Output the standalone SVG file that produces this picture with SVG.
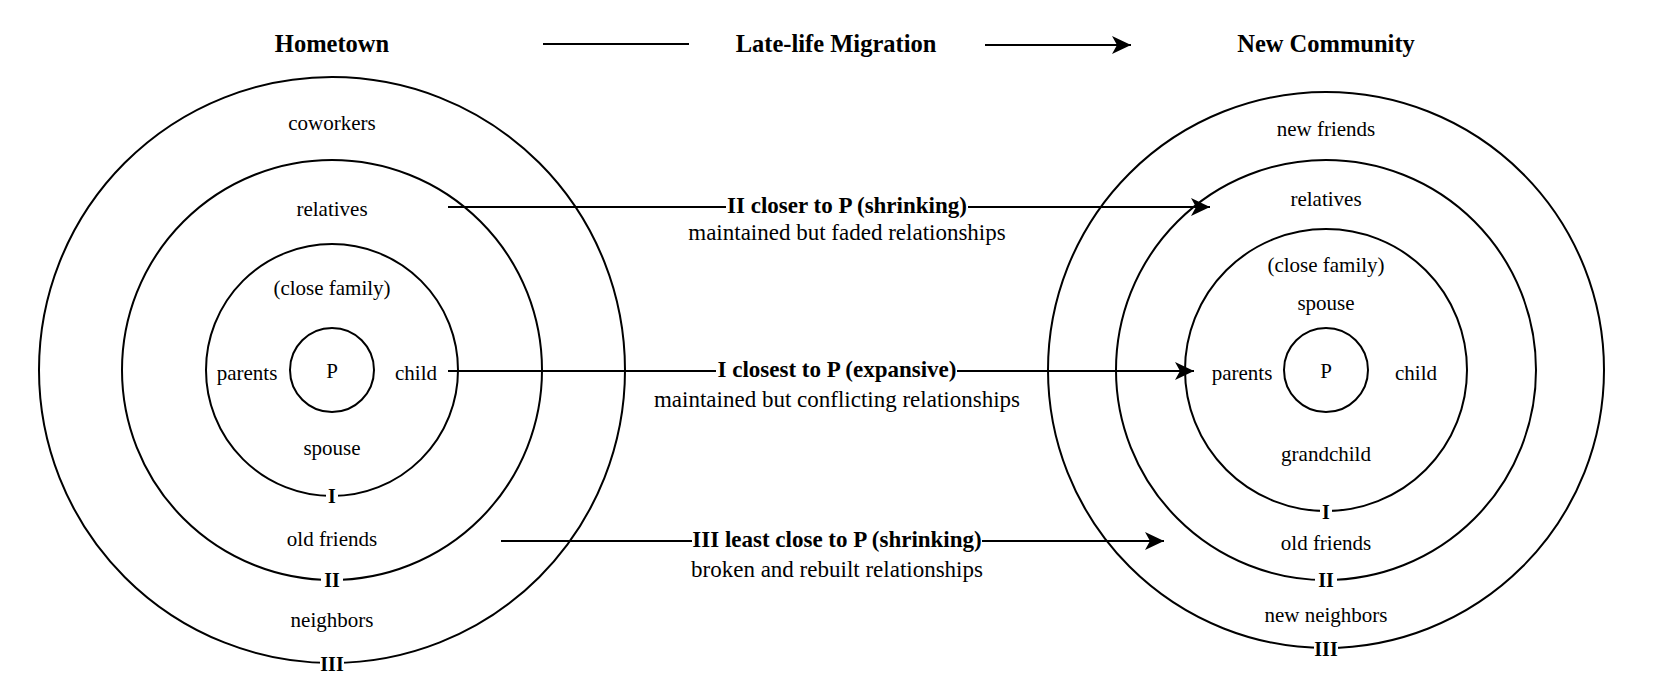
<svg xmlns="http://www.w3.org/2000/svg" width="1653" height="679" viewBox="0 0 1653 679">
<style>
.ring{fill:none;stroke:#000;stroke-width:2}
.lbl{font-family:"Liberation Serif","Times New Roman",serif;font-size:21px;fill:#000;text-anchor:middle}
.num{font-family:"Liberation Serif","Times New Roman",serif;font-size:20px;font-weight:bold;fill:#000;text-anchor:middle}
.head{font-family:"Liberation Serif","Times New Roman",serif;font-size:24.5px;font-weight:bold;fill:#000;text-anchor:middle}
.mid{font-family:"Liberation Serif","Times New Roman",serif;font-size:23px;fill:#000;text-anchor:middle}
.midb{font-family:"Liberation Serif","Times New Roman",serif;font-size:23px;font-weight:bold;fill:#000;text-anchor:middle}
.conn{fill:none;stroke:#000;stroke-width:2}
.bg{fill:#fff}
</style>
<defs>
<marker id="arr" markerUnits="userSpaceOnUse" markerWidth="20" markerHeight="20" refX="19" refY="10" orient="auto">
<path d="M0,1 L19,10 L0,19 L5,10 Z" fill="#000"/>
</marker>
</defs>
<rect width="1653" height="679" fill="#fff"/>

<g id="connectors">
<line class="conn" x1="543" y1="44" x2="689" y2="44"/>
<line class="conn" x1="985" y1="45" x2="1131" y2="45" marker-end="url(#arr)"/>
<line class="conn" x1="448" y1="207" x2="1210" y2="207" marker-end="url(#arr)"/>
<line class="conn" x1="448" y1="371" x2="1194" y2="371" marker-end="url(#arr)"/>
<line class="conn" x1="501" y1="541" x2="1164" y2="541" marker-end="url(#arr)"/>
</g>

<g id="titles">
<text class="head" x="332" y="52">Hometown</text>
<text class="head" x="836" y="52">Late-life Migration</text>
<text class="head" x="1326" y="52">New Community</text>
</g>

<g id="hometown">
<circle class="ring" cx="332" cy="370" r="293"/>
<circle class="ring" cx="332" cy="370" r="210"/>
<circle class="ring" cx="332" cy="370" r="126"/>
<circle class="ring" cx="332" cy="370" r="42"/>
<text class="lbl" x="332" y="130">coworkers</text>
<text class="lbl" x="332" y="216">relatives</text>
<text class="lbl" x="332" y="295">(close family)</text>
<text class="lbl" x="247" y="380">parents</text>
<text class="lbl" x="332" y="378">P</text>
<text class="lbl" x="416" y="380">child</text>
<text class="lbl" x="332" y="455">spouse</text>
<text class="lbl" x="332" y="546">old friends</text>
<text class="lbl" x="332" y="627">neighbors</text>
<rect class="bg" x="326" y="488" width="12" height="16"/>
<text class="num" x="332" y="503">I</text>
<rect class="bg" x="321" y="572" width="22" height="16"/>
<text class="num" x="332" y="587">II</text>
<rect class="bg" x="320" y="656" width="24" height="16"/>
<text class="num" x="332" y="671">III</text>
</g>

<g id="newcommunity">
<circle class="ring" cx="1326" cy="370" r="278"/>
<circle class="ring" cx="1326" cy="370" r="210"/>
<circle class="ring" cx="1326" cy="370" r="141"/>
<circle class="ring" cx="1326" cy="370" r="42"/>
<text class="lbl" x="1326" y="136">new friends</text>
<text class="lbl" x="1326" y="206">relatives</text>
<text class="lbl" x="1326" y="272">(close family)</text>
<text class="lbl" x="1326" y="310">spouse</text>
<text class="lbl" x="1242" y="380">parents</text>
<text class="lbl" x="1326" y="378">P</text>
<text class="lbl" x="1416" y="380">child</text>
<text class="lbl" x="1326" y="461">grandchild</text>
<text class="lbl" x="1326" y="550">old friends</text>
<text class="lbl" x="1326" y="622">new neighbors</text>
<rect class="bg" x="1320" y="504" width="12" height="16"/>
<text class="num" x="1326" y="519">I</text>
<rect class="bg" x="1315" y="572" width="22" height="16"/>
<text class="num" x="1326" y="587">II</text>
<rect class="bg" x="1314" y="641" width="24" height="16"/>
<text class="num" x="1326" y="656">III</text>
</g>

<g id="label-II">
<rect class="bg" x="726" y="194" width="242" height="24"/>
<text class="midb" x="847" y="213">II closer to P (shrinking)</text>
<text class="mid" x="847" y="240">maintained but faded relationships</text>
</g>
<g id="label-I">
<rect class="bg" x="716" y="358" width="241" height="24"/>
<text class="midb" x="837" y="377">I closest to P (expansive)</text>
<text class="mid" x="837" y="407">maintained but conflicting relationships</text>
</g>
<g id="label-III">
<rect class="bg" x="692" y="528" width="290" height="24"/>
<text class="midb" x="837" y="547">III least close to P (shrinking)</text>
<text class="mid" x="837" y="577">broken and rebuilt relationships</text>
</g>
</svg>
